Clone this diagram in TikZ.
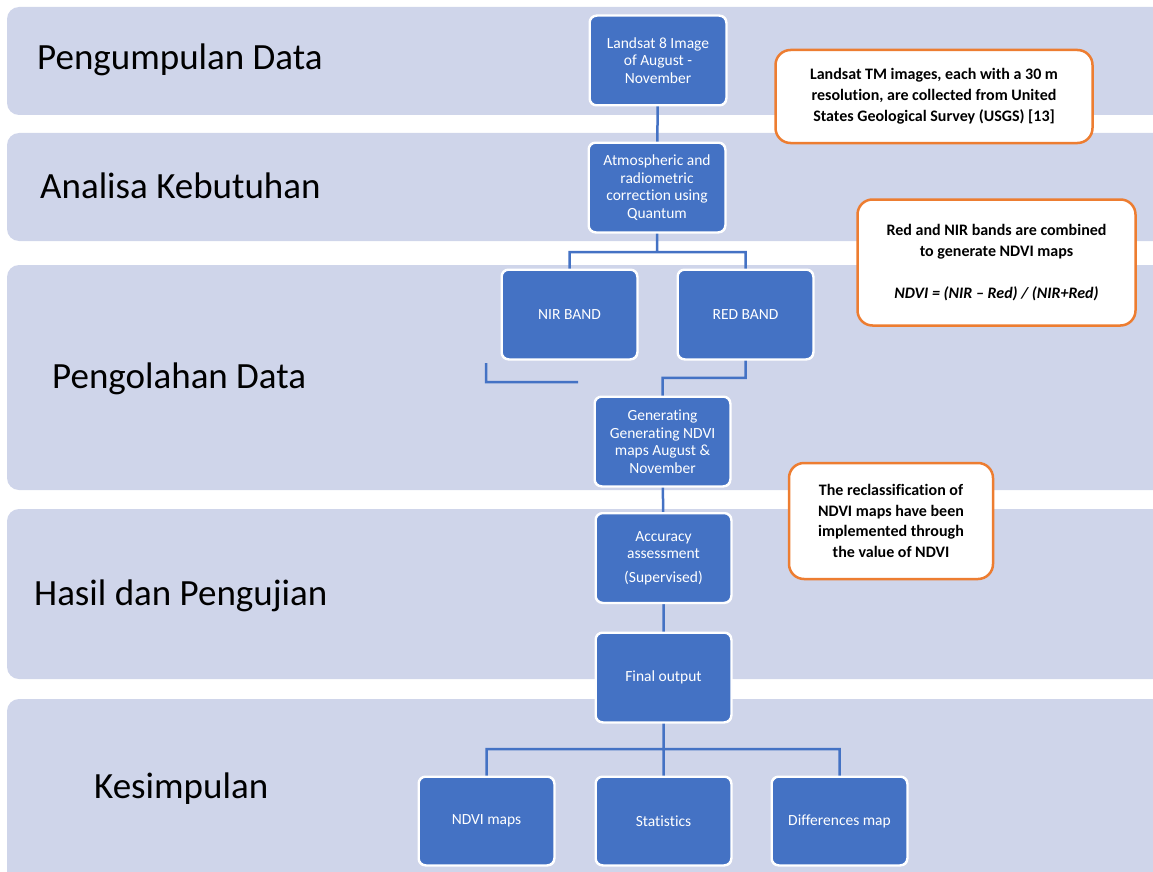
\documentclass[tikz,border=0pt]{standalone}
\usepackage{fontspec}
\setmainfont{Carlito}[Ligatures=NoCommon]
\usepackage{tikz}
\usetikzlibrary{positioning}

\definecolor{bandfill}{HTML}{CFD5EA}
\definecolor{boxblue}{HTML}{4472C4}
\definecolor{calorange}{HTML}{ED7D31}

\begin{document}
\begin{tikzpicture}[x=1pt,y=-1pt,
  band/.style={fill=bandfill,rounded corners=12pt},
  band label/.style={anchor=base west,inner sep=0pt,font=\fontsize{37}{41}\selectfont},
  blue box/.style={rectangle,rounded corners=7pt,fill=boxblue,draw=white,line width=1.5pt,
    text=white,align=center,minimum width=136pt,minimum height=89pt,inner sep=2pt,
    font=\fontsize{15.5}{17.5}\selectfont},
  callout/.style={rectangle,rounded corners=15pt,fill=white,draw=calorange,line width=2.5pt,
    align=center,inner sep=2pt,font=\fontsize{16}{20.8}\selectfont\bfseries},
  conn/.style={draw=boxblue,line width=2.5pt}]

  \clip (0,0) rectangle (1153,872);
  \useasboundingbox (0,0) rectangle (1153,872);

  % swimlanes
  \fill[band] (7,7) rectangle (1165,115);
  \fill[band] (7,133) rectangle (1165,241);
  \fill[band] (7,265) rectangle (1165,490);
  \fill[band] (7,509) rectangle (1165,679);
  \fill[band] (7,699) rectangle (1165,890);

  \node[band label] (lane1) at (37,70) {Pengumpulan Data};
  \node[band label] (lane2) at (40,198) {Analisa Kebutuhan};
  \node[band label] (lane3) at (52,388) {Pengolahan Data};
  \node[band label] (lane4) at (34,605) {Hasil dan Pengujian};
  \node[band label] (lane5) at (94,798) {Kesimpulan};

  % process boxes
  \node[blue box] (land) at (658,60.5) {Landsat 8 Image\\of August -\\November};
  \node[blue box] (atm) at (657,187.5) {Atmospheric and\\radiometric\\correction using\\Quantum};
  \node[blue box,minimum width=135pt] (nir) at (569.5,314.5) {NIR BAND};
  \node[blue box,minimum width=135pt] (red) at (745.5,314.5) {RED BAND};
  \node[blue box,minimum width=135pt] (gen) at (662.5,441.5) {Generating\\Generating NDVI\\maps August \&\\November};
  \node[blue box,minimum width=135pt] (acc) at (663.5,558) {Accuracy\\assessment\\[6pt](Supervised)};
  \node[blue box,minimum width=135pt] (fin) at (663.5,677.5) {Final output};
  \node[blue box,minimum width=135pt,minimum height=88pt] (ndvi) at (486.5,821) {NDVI maps};
  \node[blue box,minimum width=135pt,minimum height=88pt] (stat) at (663.5,821) {Statistics};
  \node[blue box,minimum width=135pt,minimum height=88pt] (diff) at (839.5,821) {Differences map};

  % notes
  \node[callout,minimum width=317pt,minimum height=93pt] (note1) at (934,96.5)
    {Landsat TM images, each with a 30 m\\resolution, are collected from United\\States Geological Survey (USGS) [13]};
  \node[callout,minimum width=278pt,minimum height=126pt] (note2) at (996.5,262.5)
    {Red and NIR bands are combined\\to generate NDVI maps\\[21pt]\itshape NDVI = (NIR -- Red) / (NIR+Red)};
  \node[callout,minimum width=204pt,minimum height=116pt] (note3) at (891,521)
    {The reclassification of\\NDVI maps have been\\implemented through\\the value of NDVI};

  % connectors
  \coordinate (split1) at (657,252);
  \coordinate (stub1) at (486,363);
  \coordinate (stub2) at (486,382);
  \coordinate (stub3) at (578,382);
  \coordinate (split2) at (663.5,749);

  \path[conn] (land) -- (atm)
              (atm) -- (split1)
              (split1) -| (nir)
              (split1) -| (red)
              (stub1) -- (stub2) -- (stub3)
              (red.south) -- ++(0,18) -| (gen)
              (gen) -- (acc)
              (acc) -- (fin)
              (fin) -- (split2)
              (split2) -| (ndvi)
              (split2) -- (stat)
              (split2) -| (diff);

  % boxes again on top of the lines
  \foreach \n in {land,atm,nir,red,gen,acc,fin,ndvi,stat,diff}
    \draw[white,line width=1.5pt,rounded corners=7pt] (\n.north west) rectangle (\n.south east);
\end{tikzpicture}
\end{document}
